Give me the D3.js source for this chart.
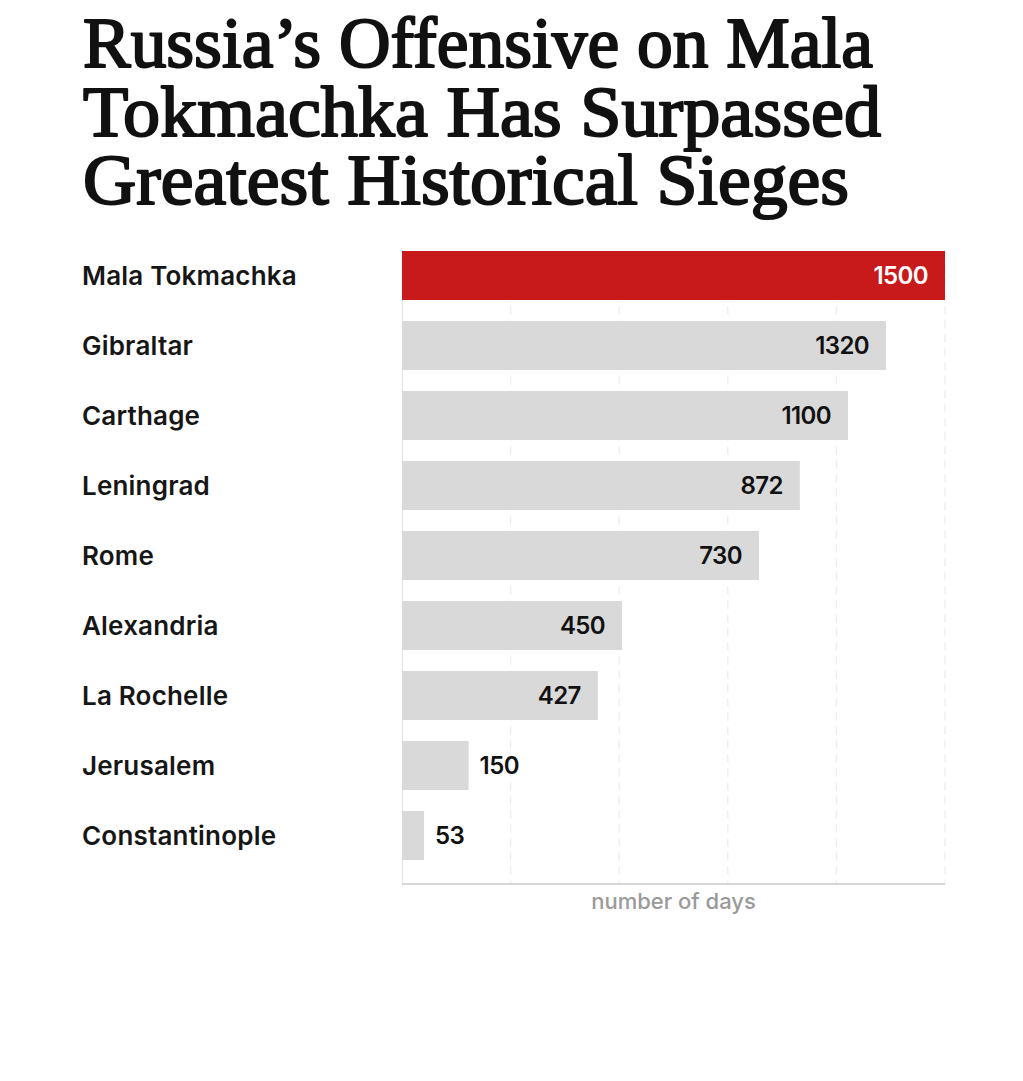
<!DOCTYPE html>
<html>
<head>
<meta charset="utf-8">
<script src="https://cdn.jsdelivr.net/npm/d3@7"></script>
<style>
  html, body { margin: 0; padding: 0; background: #fff; }
  svg { display: block; }
</style>
</head>
<body>
<svg id="chart" width="1023" height="1081"></svg>
<script>
// ---- data ----
const titleLines = ["Russia\u2019s Offensive on Mala", "Tokmachka Has Surpassed", "Greatest Historical Sieges"];
const categories = ["Mala Tokmachka", "Gibraltar", "Carthage", "Leningrad", "Rome", "Alexandria", "La Rochelle", "Jerusalem", "Constantinople"];
// values printed on the bars
const days = [1500, 1320, 1100, 872, 730, 450, 427, 150, 53];
// where each bar actually ends on the chart's 0–1500 axis (the reference's bars are not proportional to their labels)
const drawnLength = [1500, 1337, 1232, 1099, 986, 608, 541, 184, 61];
const gridTicks = [0, 300, 600, 900, 1200, 1500];
const axisTitle = "number of days";
const highlight = "Mala Tokmachka";

(function () {
// ---- layout ----
const svg = d3.select("#chart");
const plotLeft = 402, plotRight = 945, plotTop = 240.5, plotBottom = 870.5, axisY = 884;

const x = d3.scaleLinear().domain([0, 1500]).range([plotLeft, plotRight]);
const y = d3.scaleBand().domain(categories).range([plotTop, plotBottom]).paddingInner(0.3).paddingOuter(0.15);

// title (one text block, three lines)
const titleWidths = [790, 798, 766];
svg.append("text")
  .attr("font-family", "Liberation Serif, Times New Roman, serif")
  .attr("font-size", 72)
  .attr("fill", "#111")
  .attr("stroke", "#111")
  .attr("stroke-width", 2.1)
  .attr("stroke-linejoin", "round")
  .selectAll("tspan").data(titleLines).join("tspan")
  .attr("x", 83)
  .attr("y", (d, i) => 67 + i * 68.5)
  .attr("textLength", (d, i) => titleWidths[i])
  .attr("lengthAdjust", "spacingAndGlyphs")
  .text(d => d);

// gridlines
svg.append("g").selectAll("line").data(gridTicks.slice(1)).join("line")
  .attr("x1", d => x(d)).attr("x2", d => x(d))
  .attr("y1", plotTop + 10).attr("y2", axisY)
  .attr("stroke", "#ececec").attr("stroke-width", 1.2)
  .attr("stroke-dasharray", "8,6");

// left axis line
svg.append("line")
  .attr("x1", plotLeft + 0.5).attr("x2", plotLeft + 0.5)
  .attr("y1", plotTop + 10).attr("y2", axisY)
  .attr("stroke", "#e3e3e3").attr("stroke-width", 1.2);

// bottom axis
svg.append("line")
  .attr("x1", plotLeft).attr("x2", plotRight)
  .attr("y1", axisY).attr("y2", axisY)
  .attr("stroke", "#c9c9c9").attr("stroke-width", 1.5);

const rows = categories.map((c, i) => ({ cat: c, days: days[i], len: drawnLength[i] }));

// bars
svg.append("g").selectAll("rect").data(rows).join("rect")
  .attr("x", x(0))
  .attr("y", d => y(d.cat))
  .attr("width", d => x(d.len) - x(0))
  .attr("height", y.bandwidth())
  .attr("fill", d => d.cat === highlight ? "#c8191b" : "#d9d9d9");

// category labels
svg.append("g").selectAll("text").data(rows).join("text")
  .attr("x", 82)
  .attr("y", d => y(d.cat) + y.bandwidth() / 2)
  .attr("dy", "0.36em")
  .attr("font-family", "Inter, sans-serif")
  .attr("font-weight", 600)
  .attr("font-size", 26)
  .attr("letter-spacing", 0.2)
  .attr("fill", "#161616")
  .text(d => d.cat);

// value labels
const inside = d => (x(d.len) - x(0)) > 100;
svg.append("g").selectAll("text").data(rows).join("text")
  .attr("x", d => inside(d) ? x(d.len) - 17 : x(d.len) + 11)
  .attr("y", d => y(d.cat) + y.bandwidth() / 2)
  .attr("dy", "0.36em")
  .attr("text-anchor", d => inside(d) ? "end" : "start")
  .attr("font-family", "Inter, sans-serif")
  .attr("font-weight", 600)
  .attr("font-size", 24)
  .attr("letter-spacing", -0.6)
  .attr("fill", d => d.cat === highlight ? "#fff" : "#111")
  .text(d => d.days);

// axis title
svg.append("text")
  .attr("x", (plotLeft + plotRight) / 2)
  .attr("y", 909)
  .attr("text-anchor", "middle")
  .attr("font-family", "Inter, sans-serif")
  .attr("font-weight", 500)
  .attr("font-size", 22)
  .attr("fill", "#9a9a9a")
  .text(axisTitle);
})();
</script>
</body>
</html>
